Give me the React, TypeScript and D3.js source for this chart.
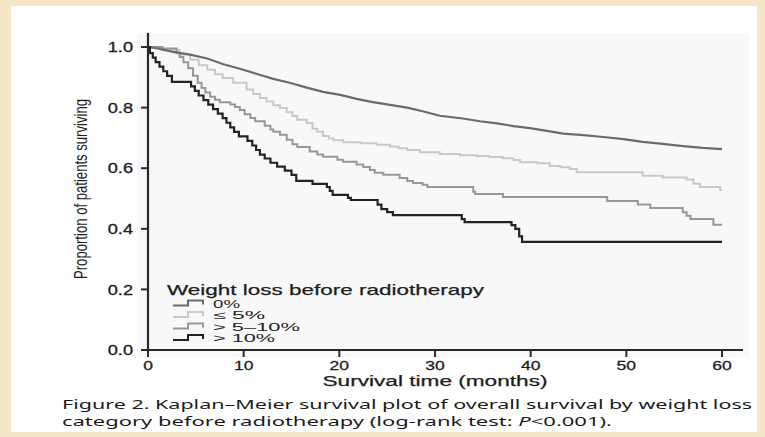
import React from "react";
import * as d3 from "d3";

const xTicks = [0, 10, 20, 30, 40, 50, 60];
const yTicks = [0, 0.2, 0.4, 0.6, 0.8, 1.0];

const legendLabels = ["0%", "\u2264 5%", "> 5\u201310%", "> 10%"];
const legendColors = ["#6b6b6b", "#c9c9c9", "#979797", "#232323"];

// 0% weight loss
const g0Time = [0, 1.0, 2.6, 4.4, 6.2, 7.8, 9.6, 11.4, 13.1, 14.8, 16.6, 18.3, 20.1, 21.8, 23.5, 25.3, 27.1, 28.7, 30.5, 32.9, 34.7, 36.5, 38.2, 39.9, 41.7, 43.4, 45.5, 47.6, 49.7, 51.7, 53.8, 55.9, 58.0, 60];
const g0Surv = [1, 0.995, 0.984, 0.975, 0.962, 0.944, 0.928, 0.911, 0.895, 0.882, 0.866, 0.852, 0.842, 0.829, 0.818, 0.809, 0.8, 0.788, 0.773, 0.764, 0.755, 0.748, 0.739, 0.732, 0.723, 0.714, 0.709, 0.703, 0.696, 0.687, 0.68, 0.673, 0.667, 0.663];

// <= 5%
const g1Time = [0, 1.5, 3.3, 4.4, 5.3, 6.2, 7.0, 7.8, 8.9, 10.3, 11.0, 11.7, 12.4, 13.1, 13.8, 14.5, 15.1, 15.6, 16.6, 17.2, 17.7, 18.3, 18.9, 19.4, 20.4, 22.2, 23.9, 25.3, 26.2, 27.1, 28.4, 30.5, 32.6, 34.4, 35.7, 37.1, 38.2, 38.9, 40.7, 42.0, 43.1, 44.1, 44.8, 51.7, 53.8, 56.3, 57.0, 57.7, 59.8, 60];
const g1Surv = [1, 0.99, 0.975, 0.958, 0.94, 0.925, 0.91, 0.898, 0.882, 0.86, 0.845, 0.832, 0.82, 0.808, 0.799, 0.785, 0.772, 0.76, 0.749, 0.73, 0.72, 0.706, 0.698, 0.692, 0.686, 0.682, 0.677, 0.672, 0.666, 0.66, 0.653, 0.647, 0.643, 0.64, 0.637, 0.633, 0.627, 0.62, 0.616, 0.607, 0.603, 0.597, 0.587, 0.575, 0.569, 0.563, 0.549, 0.538, 0.528, 0.528];

// > 5-10%
const g2Time = [0, 1.5, 3.0, 3.3, 3.7, 4.2, 4.7, 5.2, 5.6, 6.0, 6.5, 7.0, 7.5, 8.6, 9.1, 9.6, 10.1, 10.7, 11.2, 12.2, 12.8, 13.1, 13.8, 14.5, 15.1, 15.6, 16.9, 17.7, 18.3, 19.8, 20.4, 21.8, 22.5, 23.2, 23.7, 24.6, 26.3, 27.1, 27.7, 28.7, 29.2, 34.0, 34.2, 37.1, 48.0, 51.2, 52.5, 55.9, 56.3, 56.7, 59.1, 60];
const g2Surv = [1, 0.995, 0.98, 0.967, 0.95, 0.93, 0.905, 0.882, 0.865, 0.85, 0.836, 0.826, 0.818, 0.81, 0.802, 0.792, 0.778, 0.766, 0.755, 0.74, 0.728, 0.72, 0.71, 0.694, 0.679, 0.67, 0.655, 0.645, 0.638, 0.628, 0.621, 0.612, 0.604, 0.594, 0.585, 0.578, 0.568, 0.558, 0.551, 0.545, 0.538, 0.522, 0.515, 0.505, 0.492, 0.48, 0.469, 0.455, 0.443, 0.432, 0.413, 0.413];

// > 10%
const g3Time = [0, 0.2, 0.5, 0.8, 1.2, 1.6, 2.0, 2.5, 4.5, 4.9, 5.3, 5.8, 6.3, 6.8, 7.3, 7.8, 8.2, 8.6, 9.0, 9.5, 10.4, 10.9, 11.3, 11.7, 12.2, 12.8, 13.5, 14.3, 15.0, 15.5, 17.2, 18.7, 19.0, 19.3, 20.9, 21.2, 24.0, 24.4, 25.0, 25.6, 32.8, 33.1, 38.0, 38.4, 38.8, 39.1, 60];
const g3Surv = [1, 0.98, 0.965, 0.95, 0.935, 0.92, 0.905, 0.885, 0.87, 0.855, 0.84, 0.825, 0.81, 0.795, 0.78, 0.765, 0.75, 0.735, 0.72, 0.705, 0.69, 0.675, 0.66, 0.645, 0.632, 0.618, 0.605, 0.592, 0.578, 0.558, 0.548, 0.538, 0.525, 0.512, 0.502, 0.495, 0.48, 0.465, 0.455, 0.445, 0.432, 0.422, 0.412, 0.4, 0.375, 0.357, 0.357];

const W = 765;
const H = 437;

const x = d3.scaleLinear().domain([0, 60]).range([148, 722]);
const y = d3.scaleLinear().domain([0, 1]).range([350, 47]);

const stepLine = d3
  .line<[number, number]>()
  .x((d) => x(d[0]))
  .y((d) => y(d[1]))
  .curve(d3.curveStepAfter);
const smoothLine = d3
  .line<[number, number]>()
  .x((d) => x(d[0]))
  .y((d) => y(d[1]))
  .curve(d3.curveLinear);

const zip = (t: number[], s: number[]) => t.map((v, i) => [v, s[i]] as [number, number]);

const FONT = "'Liberation Sans', Arial, Helvetica, sans-serif";
const SX = 1.3;

export default function App() {
  const series = [
    { path: stepLine(zip(g1Time, g1Surv)), color: legendColors[1], w: 2 },
    { path: stepLine(zip(g2Time, g2Surv)), color: legendColors[2], w: 2 },
    { path: smoothLine(zip(g0Time, g0Surv)), color: legendColors[0], w: 2.2 },
    { path: stepLine(zip(g3Time, g3Surv)), color: legendColors[3], w: 2.2 },
  ];
  const axisColor = "#2a2a2a";
  const textColor = "#1e1e1e";
  const legendWidths = [27, 52, 87, 62];
  return (
    <svg
      width={W}
      height={H}
      viewBox={`0 0 ${W} ${H}`}
      style={{ position: "fixed", left: 0, top: 0, display: "block" }}
    >
      <rect x={0} y={0} width={W} height={H} fill="#f5e6c6" />
      <rect x={11} y={6} width={746} height={426} fill="#ffffff" />
      <rect x={137} y={33} width={612} height={324} fill="#f8f8f8" />

      {series.map((s, i) => (
        <path key={i} d={s.path || ""} fill="none" stroke={s.color} strokeWidth={s.w} strokeLinejoin="miter" />
      ))}

      {/* axes */}
      <line x1={148} x2={148} y1={33} y2={351} stroke={axisColor} strokeWidth={2.2} />
      <line x1={147} x2={743} y1={350} y2={350} stroke={axisColor} strokeWidth={2.2} />
      {yTicks.map((t) => (
        <g key={"y" + t}>
          <line x1={141} x2={148} y1={y(t)} y2={y(t)} stroke={axisColor} strokeWidth={2} />
          <text
            transform={`translate(133,${y(t)}) scale(${SX},1)`}
            textAnchor="end"
            dominantBaseline="central"
            fontFamily={FONT}
            fontSize={14}
            fill={textColor}
            stroke={textColor}
            strokeWidth={0.3}
          >
            {d3.format(".1f")(t)}
          </text>
        </g>
      ))}
      {xTicks.map((t) => (
        <g key={"x" + t}>
          <line x1={x(t)} x2={x(t)} y1={350} y2={357} stroke={axisColor} strokeWidth={2} />
          <text
            transform={`translate(${x(t)},365) scale(${SX},1)`}
            textAnchor="middle"
            dominantBaseline="central"
            fontFamily={FONT}
            fontSize={13.5}
            fill={textColor}
            stroke={textColor}
            strokeWidth={0.3}
          >
            {t}
          </text>
        </g>
      ))}

      <text
        x={435}
        y={386}
        textAnchor="middle"
        fontFamily={FONT}
        fontSize={14}
        fill={textColor}
        stroke={textColor}
        strokeWidth={0.25}
        textLength={225}
        lengthAdjust="spacingAndGlyphs"
      >
        Survival time (months)
      </text>

      <text
        transform="translate(87,189) rotate(-90)"
        textAnchor="middle"
        fontFamily={FONT}
        fontSize={19}
        fill={textColor}
        textLength={180}
        lengthAdjust="spacingAndGlyphs"
      >
        Proportion of patients surviving
      </text>

      {/* legend */}
      <text
        x={167}
        y={295}
        fontFamily={FONT}
        fontSize={15}
        fill={textColor}
        stroke={textColor}
        strokeWidth={0.25}
        textLength={317}
        lengthAdjust="spacingAndGlyphs"
      >
        Weight loss before radiotherapy
      </text>
      {legendLabels.map((lab, i) => {
        const cy = 303.5 + i * 11.5;
        return (
          <g key={lab}>
            <path
              d={`M173,${cy + 2}H188V${cy - 3}H203V${cy + 1}`}
              fill="none"
              stroke={legendColors[i]}
              strokeWidth={2}
            />
            <text
              x={213}
              y={cy + 4}
              fontFamily={FONT}
              fontSize={11}
              fill={textColor}
              textLength={legendWidths[i]}
              lengthAdjust="spacingAndGlyphs"
            >
              {lab}
            </text>
          </g>
        );
      })}

      {/* caption */}
      <text
        x={62}
        y={409}
        fontFamily="'Noto Sans', 'Open Sans', sans-serif"
        fontSize={13}
        fill="#1a1a1a"
        textLength={690}
        lengthAdjust="spacingAndGlyphs"
      >
        {"Figure 2. Kaplan\u2013Meier survival plot of overall survival by weight loss"}
      </text>
      <text
        x={62}
        y={426}
        fontFamily="'Noto Sans', 'Open Sans', sans-serif"
        fontSize={13}
        fill="#1a1a1a"
        textLength={550}
        lengthAdjust="spacingAndGlyphs"
      >
        {"category before radiotherapy (log-rank test: "}
        <tspan fontStyle="italic">P</tspan>
        {"<0.001)."}
      </text>
    </svg>
  );
}
